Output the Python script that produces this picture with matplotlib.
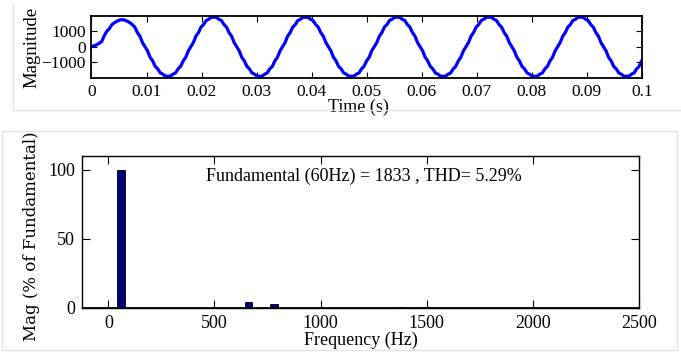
import numpy as np
import matplotlib
matplotlib.use('Agg')
import matplotlib.pyplot as plt
from matplotlib.lines import Line2D

plt.rcParams['font.family'] = ['Liberation Serif', 'DejaVu Serif']

# ========== data ==========
# inverter output voltage, 0 .. 0.1 s, 217 samples (36 per 60 Hz cycle)
t = np.linspace(0, 0.1, 217)
v = [
    0, 60, 120, 220, 330, 700, 980, 1150, 1400, 1530, 1620, 1700, 1720, 1700, 1620, 1540,
    1410, 1248, 900, 673, 266, 0, -266, -673, -900, -1248, -1410, -1668, -1747, -1871,
    -1880, -1871, -1747, -1668, -1410, -1248,
    -900, -673, -266, 0, 266, 673, 900, 1248, 1410, 1668, 1747, 1871, 1880, 1871, 1747, 1668,
    1410, 1248, 900, 673, 266, 0, -266, -673, -900, -1248, -1410, -1668, -1747, -1871,
    -1880, -1871, -1747, -1668, -1410, -1248,
    -900, -673, -266, 0, 266, 673, 900, 1248, 1410, 1668, 1747, 1871, 1880, 1871, 1747, 1668,
    1410, 1248, 900, 673, 266, 0, -266, -673, -900, -1248, -1410, -1668, -1747, -1871,
    -1880, -1871, -1747, -1668, -1410, -1248,
    -900, -673, -266, 0, 266, 673, 900, 1248, 1410, 1668, 1747, 1871, 1880, 1871, 1747, 1668,
    1410, 1248, 900, 673, 266, 0, -266, -673, -900, -1248, -1410, -1668, -1747, -1871,
    -1880, -1871, -1747, -1668, -1410, -1248,
    -900, -673, -266, 0, 266, 673, 900, 1248, 1410, 1668, 1747, 1871, 1880, 1871, 1747, 1668,
    1410, 1248, 900, 673, 266, 0, -266, -673, -900, -1248, -1410, -1668, -1747, -1871,
    -1880, -1871, -1747, -1668, -1410, -1248,
    -900, -673, -266, 0, 266, 673, 900, 1248, 1410, 1668, 1747, 1871, 1880, 1871, 1747, 1668,
    1410, 1248, 900, 673, 266, 0, -266, -673, -900, -1248, -1410, -1668, -1747, -1871,
    -1880, -1871, -1747, -1668, -1410, -1248,
    -900,
]

# harmonic spectrum (% of fundamental)
freq = [60, 660, 780, 1380, 1500]
mag = [100, 4.2, 2.6, 0.8, 0.8]

fund_text = 'Fundamental (60Hz) = 1833 , THD= 5.29%'

# ========== figure ==========
fig = plt.figure(figsize=(6.81, 3.53), dpi=100)

# light grey panel frames
def fline(x0, y0, x1, y1):
    fig.add_artist(Line2D([x0 / 681, x1 / 681], [1 - y0 / 353, 1 - y1 / 353],
                          color='#e4e4e4', lw=1))

fline(13, 4, 13, 110)
fline(13, 110, 681, 110)
fline(2, 131, 677, 131)
fline(2, 131, 2, 350)
fline(677, 131, 677, 350)
fline(2, 350, 677, 350)

# ---- top: time signal ----
ax1 = fig.add_axes([91.5 / 681, 1 - 78 / 353, 550.2 / 681, 62 / 353])
ax1.plot(t, v, color='#0000ff', lw=2.3)
ax1.set_xlim(0, 0.1)
ax1.set_ylim(-1990, 1955)
ax1.set_xticks(np.arange(0, 0.101, 0.01))
ax1.set_xticklabels(['0', '0.01', '0.02', '0.03', '0.04', '0.05',
                     '0.06', '0.07', '0.08', '0.09', '0.1'])
ax1.set_yticks([-1000, 0, 1000])
ax1.tick_params(direction='in', top=True, right=True, length=4, labelsize=12.5, pad=4)
ax1.set_xlabel('Time (s)', fontsize=13)
ax1.xaxis.set_label_coords(0.485, -0.33)
ax1.set_ylabel('Magnitude', fontsize=13.5, labelpad=1)
for s in ax1.spines.values():
    s.set_linewidth(1.3)

# ---- bottom: FFT spectrum ----
ax2 = fig.add_axes([82 / 681, 1 - 308 / 353, 557 / 681, 152 / 353])
ax2.bar(freq, mag, width=34, color='#00007f', edgecolor='black', lw=0.6, zorder=2)
ax2.axhline(0, color='black', lw=2, zorder=3)
ax2.set_xlim(-124, 2500)
ax2.set_ylim(0, 110)
ax2.set_xticks([0, 500, 1000, 1500, 2000, 2500])
ax2.set_yticks([0, 50, 100])
ax2.tick_params(direction='in', top=True, right=True, length=6, labelsize=13, pad=5)
ax2.set_xlabel('Frequency (Hz)', fontsize=13, labelpad=0)
ax2.set_ylabel('Mag (% of Fundamental)', fontsize=12, family='DejaVu Serif')
ax2.yaxis.set_label_coords(-0.075, 0.47)
ax2.text(460, 95.5, fund_text, fontsize=13, ha='left', va='center')
for s in ax2.spines.values():
    s.set_linewidth(1.0)

fig.savefig('out.png', dpi=100)
